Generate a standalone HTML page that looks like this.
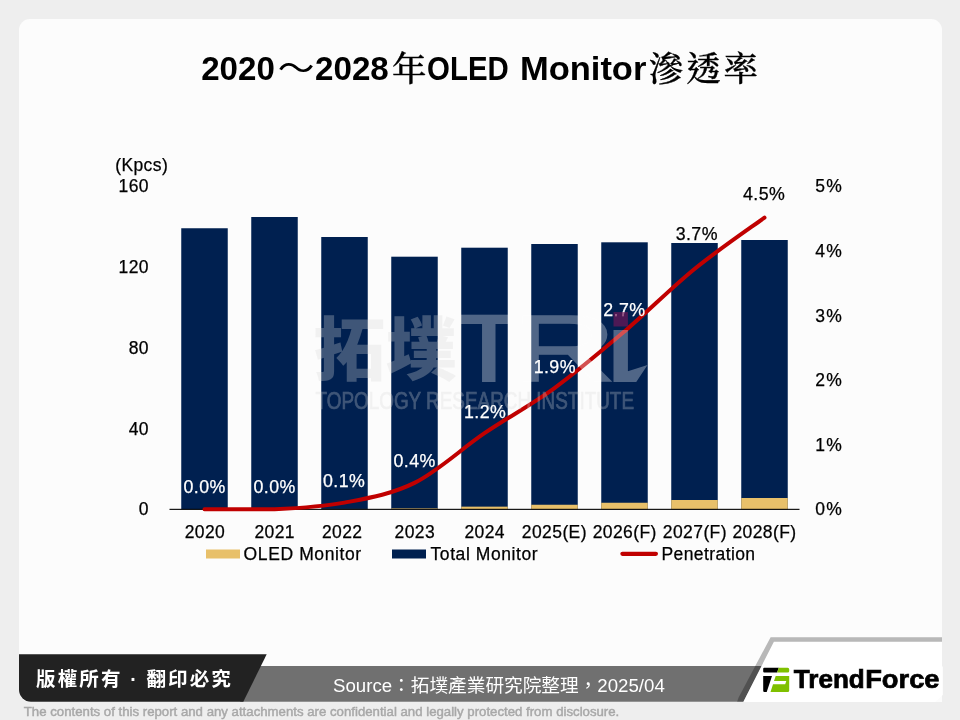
<!DOCTYPE html>
<html lang="zh-Hant"><head><meta charset="utf-8"><title>2020～2028年OLED Monitor滲透率</title>
<style>
html,body{margin:0;padding:0;}
body{width:960px;height:720px;background:#eeeeee;overflow:hidden;position:relative;font-family:"Liberation Sans","Noto Sans CJK TC",sans-serif;}
#card{position:absolute;left:19px;top:19px;width:923px;height:683px;background:#fcfcfc;border-radius:11px 11px 0 11px;}
svg{position:absolute;left:0;top:0;}
text{font-family:"Liberation Sans","Noto Sans CJK TC",sans-serif;}
.ti{font-size:32.6px;font-weight:700;fill:#000;}
.kai{font-family:"Liberation Serif","Noto Serif CJK SC",serif;font-weight:500;font-size:34.5px;fill:#000;stroke:#000;stroke-width:0.3px;}
.ax{font-size:17.5px;fill:#000;letter-spacing:0.4px;stroke:#000;stroke-width:0.25px;}
.dl{font-size:17.8px;letter-spacing:0.45px;stroke-width:0.25px;}
</style></head><body>
<div id="card"></div>
<svg width="960" height="720" viewBox="0 0 960 720">
<text id="title" class="ti" y="80"><tspan x="201.2" textLength="73.6" lengthAdjust="spacingAndGlyphs">2020</tspan><tspan x="277.8" font-weight="400" textLength="36.7" lengthAdjust="spacingAndGlyphs">～</tspan><tspan x="315" textLength="73.8" lengthAdjust="spacingAndGlyphs">2028</tspan><tspan class="kai" x="392" y="81.3">年</tspan><tspan x="427.1" y="80" textLength="81.7" lengthAdjust="spacingAndGlyphs">OLED</tspan> <tspan x="519.9" textLength="126.5" lengthAdjust="spacingAndGlyphs">Monitor</tspan><tspan class="kai" x="648.8" y="81.3" letter-spacing="2.9">滲透率</tspan></text>
<rect x="181.25" y="228.25" width="46.50" height="281.00" fill="#002050"/>
<rect x="251.25" y="217.00" width="46.50" height="292.25" fill="#002050"/>
<rect x="321.25" y="237.00" width="46.50" height="272.25" fill="#002050"/>
<rect x="321.25" y="508.95" width="46.50" height="0.30" fill="#e8c06a"/>
<rect x="391.25" y="256.70" width="46.50" height="252.55" fill="#002050"/>
<rect x="391.25" y="508.35" width="46.50" height="0.90" fill="#e8c06a"/>
<rect x="461.25" y="247.70" width="46.50" height="261.55" fill="#002050"/>
<rect x="461.25" y="506.65" width="46.50" height="2.60" fill="#e8c06a"/>
<rect x="531.25" y="244.00" width="46.50" height="265.25" fill="#002050"/>
<rect x="531.25" y="504.75" width="46.50" height="4.50" fill="#e8c06a"/>
<rect x="601.25" y="242.30" width="46.50" height="266.95" fill="#002050"/>
<rect x="601.25" y="502.75" width="46.50" height="6.50" fill="#e8c06a"/>
<rect x="671.25" y="243.00" width="46.50" height="266.25" fill="#002050"/>
<rect x="671.25" y="500.00" width="46.50" height="9.25" fill="#e8c06a"/>
<rect x="741.25" y="240.00" width="46.50" height="269.25" fill="#002050"/>
<rect x="741.25" y="498.00" width="46.50" height="11.25" fill="#e8c06a"/>
<rect x="169.5" y="508.8" width="630" height="1.1" fill="#000"/>
<path d="M204.50,509.25 C216.17,509.25 251.17,509.25 274.50,509.25 C297.83,508.14 321.17,506.99 344.50,502.60 C367.83,498.21 391.17,494.47 414.50,482.90 C437.83,471.33 461.17,449.00 484.50,433.20 C507.83,417.40 531.17,405.07 554.50,388.10 C577.83,371.13 601.17,351.25 624.50,331.40 C647.83,311.55 671.17,287.97 694.50,269.00 C717.83,250.03 752.83,226.17 764.50,217.60" fill="none" stroke="#c00000" stroke-width="4" stroke-linecap="round" stroke-linejoin="round"/>
<text class="ax" x="115.2" y="170.5">(Kpcs)</text>
<text class="ax" x="149" y="515.45" text-anchor="end">0</text>
<text class="ax" x="149" y="434.70" text-anchor="end">40</text>
<text class="ax" x="149" y="353.95" text-anchor="end">80</text>
<text class="ax" x="149" y="273.20" text-anchor="end">120</text>
<text class="ax" x="149" y="192.45" text-anchor="end">160</text>
<text class="ax" x="815.2" y="515.45" style="letter-spacing:1.3px">0%</text>
<text class="ax" x="815.2" y="450.85" style="letter-spacing:1.3px">1%</text>
<text class="ax" x="815.2" y="386.25" style="letter-spacing:1.3px">2%</text>
<text class="ax" x="815.2" y="321.65" style="letter-spacing:1.3px">3%</text>
<text class="ax" x="815.2" y="257.05" style="letter-spacing:1.3px">4%</text>
<text class="ax" x="815.2" y="192.45" style="letter-spacing:1.3px">5%</text>
<text class="ax" x="204.95" y="537.8" text-anchor="middle">2020</text>
<text class="ax" x="274.70" y="537.8" text-anchor="middle">2021</text>
<text class="ax" x="342.20" y="537.8" text-anchor="middle">2022</text>
<text class="ax" x="414.80" y="537.8" text-anchor="middle">2023</text>
<text class="ax" x="484.70" y="537.8" text-anchor="middle">2024</text>
<text class="ax" x="554.40" y="537.8" text-anchor="middle">2025(E)</text>
<text class="ax" x="624.70" y="537.8" text-anchor="middle">2026(F)</text>
<text class="ax" x="694.90" y="537.8" text-anchor="middle">2027(F)</text>
<text class="ax" x="764.50" y="537.8" text-anchor="middle">2028(F)</text>
<text class="dl" x="204.70" y="492.70" text-anchor="middle" fill="#fff" stroke="#fff">0.0%</text>
<text class="dl" x="274.70" y="492.70" text-anchor="middle" fill="#fff" stroke="#fff">0.0%</text>
<text class="dl" x="344.20" y="487.30" text-anchor="middle" fill="#fff" stroke="#fff">0.1%</text>
<text class="dl" x="414.70" y="466.70" text-anchor="middle" fill="#fff" stroke="#fff">0.4%</text>
<text class="dl" x="485.20" y="418.30" text-anchor="middle" fill="#fff" stroke="#fff">1.2%</text>
<text class="dl" x="554.80" y="373.30" text-anchor="middle" fill="#fff" stroke="#fff">1.9%</text>
<text class="dl" x="624.40" y="316.00" text-anchor="middle" fill="#fff" stroke="#fff">2.7%</text>
<text class="dl" x="696.80" y="240.00" text-anchor="middle" fill="#000" stroke="#000">3.7%</text>
<text class="dl" x="764.20" y="200.00" text-anchor="middle" fill="#000" stroke="#000">4.5%</text>
<g id="wm" opacity="0.29" fill="#d9d9d9" stroke="#d9d9d9">
<text x="313.6" y="375.3" font-size="69" font-weight="900" stroke-width="0" textLength="143.5" lengthAdjust="spacingAndGlyphs">拓墣</text>
<text x="315.5" y="408.7" font-size="23.5" stroke-width="0.7" textLength="318.5" lengthAdjust="spacingAndGlyphs">TOPOLOGY RESEARCH INSTITUTE</text>
</g>
<g id="tri" opacity="0.314" fill="#fff" stroke="#fff" stroke-width="1.5">
<text transform="translate(453.56,381.25) scale(1.22,1)" font-size="94.7" stroke-width="2.2">T</text>
<text transform="translate(512.3,381.25) scale(1.53,1)" font-size="94.7">R</text>
<path stroke="none" d="M613.5,330 H627.9 V371.2 L647.5,365 L636.25,381.9 H613.5 Z"/>
</g>
<rect x="613.5" y="312.1" width="14.4" height="14.4" fill="#6d1757" opacity="0.7"/>
<rect x="206" y="549.5" width="34" height="9" fill="#e8c06a"/>
<text class="ax" x="243.6" y="559.5" textLength="118" lengthAdjust="spacing">OLED Monitor</text>
<rect x="392" y="549.5" width="34" height="9" fill="#002050"/>
<text class="ax" x="430.5" y="559.5" textLength="107.5" lengthAdjust="spacing">Total Monitor</text>
<line x1="622.4" y1="553.8" x2="655.9" y2="553.8" stroke="#c00000" stroke-width="4.2" stroke-linecap="round"/>
<text class="ax" x="661.5" y="559.5" textLength="94" lengthAdjust="spacing">Penetration</text>
<polygon points="240,701.7 257,666 761.6,666 743.4,701.7" fill="#707070"/>
<path d="M31,654.2 H266.7 L243.3,701.7 H31 A12,12 0 0 1 19,689.7 V654.2 Z" fill="#222222"/>
<polygon points="743.4,701.7 773.9,641.7 942,641.7 942,666.5 942.8,666.5 942.8,695 935.4,701.7" fill="#ffffff"/>
<polygon points="737.1,701.7 738.6,697.4 770.6,637.2 942,637.2 942,641.7 773.9,641.7 743.4,701.7" fill="#000" fill-opacity="0.27"/>
<text x="36" y="685.6" font-size="19.5" font-weight="700" fill="#fff" letter-spacing="2.15">版權所有 · 翻印必究</text>
<text x="333" y="691.8" font-size="18.67" fill="#fff">Source：拓墣產業研究院整理，2025/04</text>
<text x="23.8" y="715.6" font-size="13" font-weight="400" fill="#a8a8a8" stroke="#a8a8a8" stroke-width="0.45" textLength="595.5" lengthAdjust="spacingAndGlyphs">The contents of this report and any attachments are confidential and legally protected from disclosure.</text>
<g id="tf">
<path d="M764.2,667.7 H778.8 L777.1,672.6 H764.2 A1,1 0 0 1 763.2,671.6 V668.7 A1,1 0 0 1 764.2,667.7 Z M763.2,676 H772 L766.7,692 H764.4 A1.2,1.2 0 0 1 763.2,690.8 Z" fill="#000"/>
<path d="M778.8,667.7 H787.7 A1.5,1.5 0 0 1 789.2,669.2 V671.1 A1.5,1.5 0 0 1 787.7,672.6 H777.1 Z M775.7,676 H789.2 V690.5 A1.5,1.5 0 0 1 787.7,692 H770.5 L773,684.2 H785.2 L786.3,681.1 H774 Z" fill="#7fc000"/>
<text y="688.2" font-size="25.6" font-weight="700" fill="#000" stroke="#000" stroke-width="0.7"><tspan x="793.8" textLength="71" lengthAdjust="spacingAndGlyphs">Trend</tspan><tspan x="865.2" textLength="74.3" lengthAdjust="spacingAndGlyphs">Force</tspan></text>
</g>
</svg>
</body></html>
